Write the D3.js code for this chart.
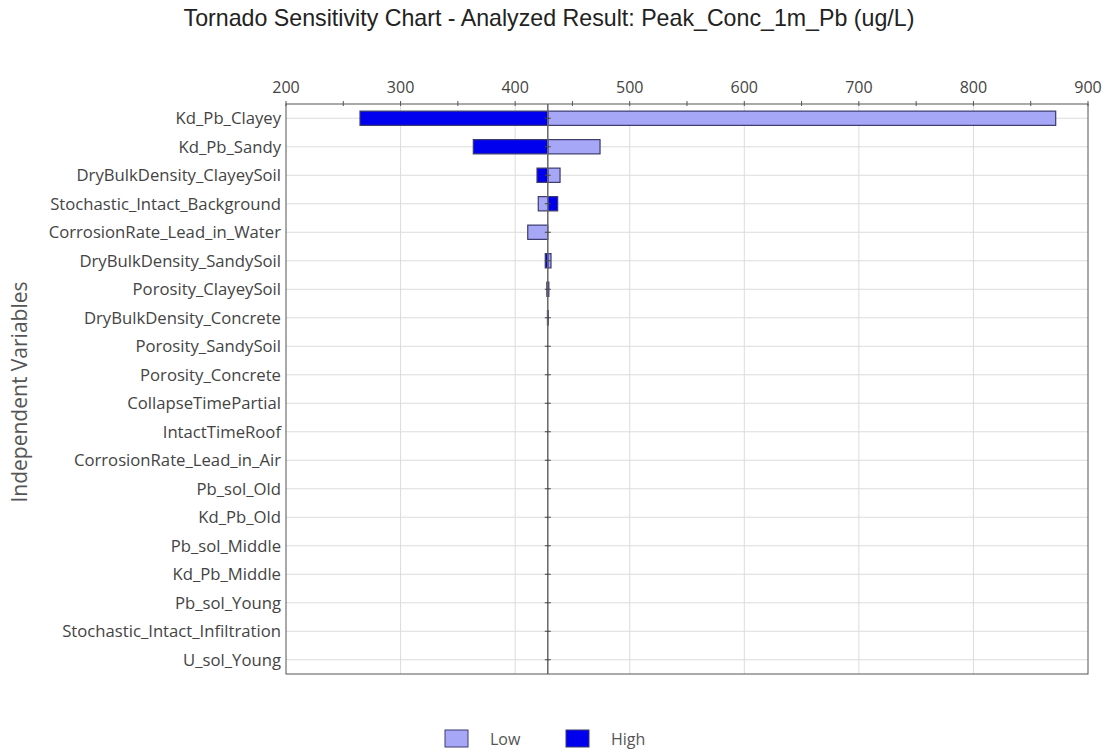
<!DOCTYPE html>
<html>
<head>
<meta charset="utf-8">
<script src="https://cdn.jsdelivr.net/npm/d3@7/dist/d3.min.js"></script>
<style>
  body { margin: 0; background: #fff; }
  svg { display: block; }
</style>
</head>
<body>
<div id="chart"></div>
<script>
// categories, top to bottom
const categories = [
  'Kd_Pb_Clayey', 'Kd_Pb_Sandy', 'DryBulkDensity_ClayeySoil', 'Stochastic_Intact_Background',
  'CorrosionRate_Lead_in_Water', 'DryBulkDensity_SandySoil', 'Porosity_ClayeySoil',
  'DryBulkDensity_Concrete', 'Porosity_SandySoil', 'Porosity_Concrete', 'CollapseTimePartial',
  'IntactTimeRoof', 'CorrosionRate_Lead_in_Air', 'Pb_sol_Old', 'Kd_Pb_Old', 'Pb_sol_Middle',
  'Kd_Pb_Middle', 'Pb_sol_Young', 'Stochastic_Intact_Infiltration', 'U_sol_Young'
];
// result at low / high input values
const lowValues = [871.8, 474.1, 439.2, 420.2, 411.0, 431.3, 429.4, 428.9, 428.5, 428.5,
  428.5, 428.5, 428.5, 428.5, 428.5, 428.5, 428.5, 428.5, 428.5, 428.5];
const highValues = [264.6, 363.5, 419.1, 437.1, 428.5, 426.3, 427.7, 428.2, 428.5, 428.5,
  428.5, 428.5, 428.5, 428.5, 428.5, 428.5, 428.5, 428.5, 428.5, 428.5];
const baseValue = 428.5;
const xTicks = [200, 300, 400, 500, 600, 700, 800, 900];
const xMinorTicks = [250, 350, 450, 550, 650, 750, 850];
const seriesNames = ['Low', 'High'];

const width = 1108, height = 755;
const plot = {left: 286, right: 1088, top: 104, bottom: 674};
const colors = {Low: '#a7a7f7', High: '#0000ee'};
const strokeColor = '#3a3a6e';
const labelFont = '"Open Sans", sans-serif';

let svg = d3.select('#chart').append('svg')
  .attr('width', width)
  .attr('height', height);

let x = d3.scaleLinear().domain([200, 900]).range([plot.left, plot.right]);
let y = d3.scaleBand().domain(categories).range([plot.top, plot.bottom])
  .paddingInner(0.5).paddingOuter(0.25);
let yMid = d => y(d) + y.bandwidth() / 2;

// title
svg.append('text')
  .attr('x', 549).attr('y', 26)
  .attr('text-anchor', 'middle')
  .style('font-family', '"Liberation Sans", Arial, sans-serif')
  .style('font-size', '23.2px')
  .style('fill', '#222')
  .text('Tornado Sensitivity Chart - Analyzed Result: Peak_Conc_1m_Pb (ug/L)');

// grid
svg.append('g').selectAll('line.vgrid')
  .data(xTicks.slice(1, -1))
  .enter().append('line')
  .attr('class', 'vgrid')
  .attr('x1', d => x(d)).attr('x2', d => x(d))
  .attr('y1', plot.top).attr('y2', plot.bottom)
  .style('stroke', '#dcdcdc');

svg.append('g').selectAll('line.hgrid')
  .data(categories)
  .enter().append('line')
  .attr('class', 'hgrid')
  .attr('x1', plot.left).attr('x2', plot.right)
  .attr('y1', yMid).attr('y2', yMid)
  .style('stroke', '#dcdcdc');

// bars
let rows = categories.map((c, i) => ({name: c, Low: lowValues[i], High: highValues[i]}));
let barG = svg.append('g');
seriesNames.forEach(s => {
  barG.selectAll('rect.bar-' + s)
    .data(rows.filter(d => d[s] !== baseValue))
    .enter().append('rect')
    .attr('class', 'bar-' + s)
    .attr('x', d => x(Math.min(d[s], baseValue)))
    .attr('width', d => Math.abs(x(d[s]) - x(baseValue)))
    .attr('y', d => y(d.name))
    .attr('height', y.bandwidth())
    .style('fill', colors[s])
    .style('stroke', strokeColor)
    .style('stroke-width', 1.2);
});

// frame
svg.append('rect')
  .attr('x', plot.left).attr('y', plot.top)
  .attr('width', plot.right - plot.left).attr('height', plot.bottom - plot.top)
  .style('fill', 'none')
  .style('stroke', '#555');

// baseline with row ticks
svg.append('line')
  .attr('x1', x(baseValue)).attr('x2', x(baseValue))
  .attr('y1', plot.top).attr('y2', plot.bottom)
  .style('stroke', '#666')
  .style('stroke-width', 1.5);
svg.append('g').selectAll('line')
  .data(categories)
  .enter().append('line')
  .attr('x1', x(baseValue) - 3).attr('x2', x(baseValue) + 3)
  .attr('y1', yMid).attr('y2', yMid)
  .style('stroke', '#444');

// top axis
let axisG = svg.append('g');
axisG.selectAll('line.tick')
  .data(xTicks.concat(xMinorTicks))
  .enter().append('line')
  .attr('x1', d => x(d)).attr('x2', d => x(d))
  .attr('y1', plot.top - 3).attr('y2', plot.top + 2)
  .style('stroke', '#555');
axisG.selectAll('text')
  .data(xTicks)
  .enter().append('text')
  .attr('x', d => x(d)).attr('y', plot.top - 11)
  .attr('text-anchor', 'middle')
  .style('font-family', labelFont)
  .style('font-size', '16px')
  .style('fill', '#444')
  .text(d => d);

// category labels
svg.append('g').selectAll('text')
  .data(categories)
  .enter().append('text')
  .attr('x', plot.left - 5)
  .attr('y', yMid)
  .attr('dy', '0.35em')
  .attr('text-anchor', 'end')
  .style('font-family', labelFont)
  .style('font-size', '16.7px')
  .style('fill', '#444')
  .text(d => d);

// y title
svg.append('text')
  .attr('transform', 'translate(27,392) rotate(-90)')
  .attr('text-anchor', 'middle')
  .style('font-family', labelFont)
  .style('font-size', '21px')
  .style('fill', '#555')
  .text('Independent Variables');

// legend
let legend = svg.append('g').selectAll('g')
  .data(seriesNames)
  .enter().append('g')
  .attr('transform', (d, i) => `translate(${445 + i * 121},730)`);
legend.append('rect')
  .attr('width', 23).attr('height', 17)
  .style('fill', d => colors[d])
  .style('stroke', strokeColor);
legend.append('text')
  .attr('x', 45).attr('y', 15)
  .style('font-family', labelFont)
  .style('font-size', '16px')
  .style('fill', '#555')
  .text(d => d);
</script>
</body>
</html>
